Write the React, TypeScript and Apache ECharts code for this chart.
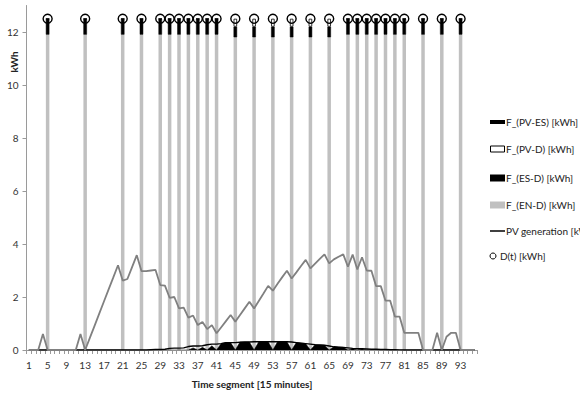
import React, { useEffect, useRef } from "react";
import * as echarts from "echarts";

// Time segments (15 minutes)
const categories = [
  "1","2","3","4","5","6","7","8","9","10","11","12","13","14","15","16",
  "17","18","19","20","21","22","23","24","25","26","27","28","29","30","31","32",
  "33","34","35","36","37","38","39","40","41","42","43","44","45","46","47","48",
  "49","50","51","52","53","54","55","56","57","58","59","60","61","62","63","64",
  "65","66","67","68","69","70","71","72","73","74","75","76","77","78","79","80",
  "81","82","83","84","85","86","87","88","89","90","91","92","93","94","95","96",
];

// PV generation [kWh] per segment
const pvGeneration = [
  0, 0, 0, 0.6, 0, 0, 0, 0, 0, 0, 0, 0.6, 0, 0.46, 0.91, 1.37,
  1.83, 2.29, 2.74, 3.2, 2.62, 2.68, 3.13, 3.58, 2.98, 2.98, 3.0, 3.02, 2.45, 2.43, 1.97, 2.0,
  1.57, 1.6, 1.22, 1.3, 0.94, 1.06, 0.79, 0.94, 0.63, 0.86, 1.09, 1.32, 1.07, 1.32, 1.57, 1.82,
  1.57, 1.85, 2.13, 2.42, 2.24, 2.5, 2.75, 2.99, 2.7, 2.93, 3.17, 3.4, 3.08, 3.26, 3.44, 3.61,
  3.27, 3.42, 3.52, 3.61, 3.14, 3.6, 3.04, 3.5, 3.0, 2.99, 2.41, 2.41, 1.86, 1.86, 1.26, 1.26,
  0.65, 0.65, 0.65, 0.65, 0, 0, 0, 0.65, 0, 0.5, 0.65, 0.65, 0, 0, 0, 0,
];

// Storage flow line near zero [kWh] per segment
const storageLine = [
  0, 0, 0, 0, 0, 0, 0, 0, 0, 0, 0, 0, 0, 0, 0, 0,
  0, 0, 0, 0, 0, 0, 0, 0, 0, 0, 0.01, 0.02, 0.02, 0.03, 0.06, 0.07,
  0.07, 0.08, 0.13, 0.15, 0.15, 0.16, 0.2, 0.22, 0.22, 0.24, 0.28, 0.28, 0.28, 0.29, 0.3, 0.3,
  0.31, 0.31, 0.31, 0.31, 0.31, 0.31, 0.31, 0.31, 0.3, 0.28, 0.26, 0.24, 0.22, 0.2, 0.19, 0.18,
  0.15, 0.12, 0.11, 0.1, 0.08, 0.06, 0.05, 0.05, 0.04, 0.03, 0.03, 0.02, 0.02, 0.01, 0.01, 0.005,
  0, 0, 0, 0, 0, 0, 0, 0, 0, 0, 0, 0, 0, 0, 0, 0,
];

// Segments with demand
const demandSegments = [5, 13, 21, 25, 29, 31, 33, 35, 37, 39, 41, 45, 49, 53, 57, 61, 65, 69, 71, 73, 75, 77, 79, 81, 85, 89, 93];
const demandValues = [12.5, 12.5, 12.5, 12.5, 12.5, 12.5, 12.5, 12.5, 12.5, 12.5, 12.5, 12.5, 12.5, 12.5, 12.5, 12.5, 12.5, 12.5, 12.5, 12.5, 12.5, 12.5, 12.5, 12.5, 12.5, 12.5, 12.5];
const enD = [11.9, 11.9, 11.9, 11.9, 11.9, 11.9, 11.9, 11.9, 11.9, 11.9, 11.9, 11.8, 11.8, 11.8, 11.8, 11.8, 11.8, 11.9, 11.9, 11.9, 11.9, 11.9, 11.9, 11.9, 11.9, 11.9, 11.9];
const esD = [0.6, 0.6, 0.6, 0.6, 0.6, 0.6, 0.6, 0.6, 0.6, 0.6, 0.6, 0.4, 0.4, 0.4, 0.4, 0.4, 0.4, 0.6, 0.6, 0.6, 0.6, 0.6, 0.6, 0.6, 0.6, 0.6, 0.6];
const pvD = [0, 0, 0, 0, 0, 0, 0, 0, 0, 0, 0, 0.3, 0.3, 0.3, 0.3, 0.3, 0.3, 0, 0, 0, 0, 0, 0, 0, 0, 0, 0];

// PV to storage (charging) between demand segments
const chargeSegments = [36, 38, 40, 42, 43, 44, 46, 47, 48, 50, 51, 52, 54, 55, 56, 58, 59, 60, 62, 63, 64, 66, 67, 68, 70, 72];
const chargeValues = [0.08, 0.1, 0.16, 0.25, 0.28, 0.28, 0.3, 0.3, 0.3, 0.31, 0.31, 0.31, 0.31, 0.31, 0.31, 0.28, 0.26, 0.24, 0.2, 0.19, 0.18, 0.12, 0.11, 0.1, 0.05, 0.04];

const yTicks = [0, 2, 4, 6, 8, 10, 12];

const legendNames = ["F_(PV-ES) [kWh]", "F_(PV-D) [kWh]", "F_(ES-D) [kWh]", "F_(EN-D) [kWh]", "PV generation [kWh]", "D(t) [kWh]"];

const FONT = "Lato, 'Open Sans', sans-serif";

function spread(segs: number[], vals: number[], fill: number | null) {
  const arr: (number | null)[] = categories.map(() => fill);
  segs.forEach((s, i) => {
    arr[s - 1] = vals[i];
  });
  return arr;
}

export default function App() {
  const ref = useRef<HTMLDivElement>(null);
  useEffect(() => {
    if (!ref.current) return;
    const chart = echarts.init(ref.current, null, { renderer: "svg" });
    const rows = [122, 149, 178, 205, 231, 256];
    const legendGraphics: any[] = [
      { type: "rect", shape: { x: 490, y: rows[0] - 2, width: 15, height: 4 }, style: { fill: "#000" } },
      { type: "rect", shape: { x: 490.5, y: rows[1] - 3, width: 14, height: 6 }, style: { fill: "#fff", stroke: "#000", lineWidth: 1 } },
      { type: "rect", shape: { x: 490, y: rows[2] - 3.5, width: 15, height: 7 }, style: { fill: "#000" } },
      { type: "rect", shape: { x: 490, y: rows[3] - 3.5, width: 15, height: 7 }, style: { fill: "#c0c0c0" } },
      { type: "line", shape: { x1: 490, y1: rows[4], x2: 505, y2: rows[4] }, style: { stroke: "#000", lineWidth: 1.5 } },
      { type: "circle", shape: { cx: 493, cy: rows[5], r: 3 }, style: { fill: "none", stroke: "#000", lineWidth: 1 } },
    ];
    legendNames.forEach((n, i) => {
      legendGraphics.push({
        type: "text",
        x: i === 5 ? 500 : 506,
        y: rows[i],
        style: { text: n, fontSize: 10, fontFamily: FONT, fill: "#222", textAlign: "left", textVerticalAlign: "middle" },
      });
    });

    const option: any = {
      animation: false,
      grid: { left: 26.5, top: 5.5, width: 450.5, height: 344.5, containLabel: false, outerBoundsMode: "none" },
      xAxis: {
        type: "category",
        data: categories,
        boundaryGap: true,
        axisLine: { show: true, lineStyle: { color: "#9a9a9a", width: 1 } },
        axisTick: { show: true, interval: 0, length: 4, lineStyle: { color: "#9a9a9a" } },
        axisLabel: { interval: 3, margin: 10, fontSize: 10, color: "#333", fontFamily: FONT, hideOverlap: false },
        splitLine: { show: false },
      },
      yAxis: {
        type: "value",
        min: 0,
        max: 13,
        interval: 2,
        axisLine: { show: true, lineStyle: { color: "#9a9a9a" } },
        axisTick: { show: true, length: 4, lineStyle: { color: "#9a9a9a" }, customValues: yTicks },
        axisLabel: { customValues: yTicks, margin: 8, fontSize: 10, color: "#333", fontFamily: FONT },
        splitLine: { show: false },
      },
      graphic: [
        {
          type: "text",
          x: 13.5,
          y: 62,
          rotation: Math.PI / 2,
          style: { text: "kWh", fontSize: 10, fontWeight: "bold", fontFamily: FONT, fill: "#222", textAlign: "center", textVerticalAlign: "middle" },
        },
        {
          type: "text",
          x: 252,
          y: 384,
          style: { text: "Time segment [15 minutes]", fontSize: 10, fontWeight: "bold", fontFamily: FONT, fill: "#222", textAlign: "center", textVerticalAlign: "middle" },
        },
        ...legendGraphics,
      ],
      series: [
        {
          name: "F_(EN-D) [kWh]",
          type: "bar",
          stack: "F",
          barWidth: 3.5,
          itemStyle: { color: "#c0c0c0" },
          data: spread(demandSegments, enD, null),
        },
        {
          name: "F_(ES-D) [kWh]",
          type: "bar",
          stack: "F",
          barWidth: 3.5,
          itemStyle: { color: "#000", borderColor: "#000", borderWidth: 0.5 },
          data: spread(demandSegments, esD, null),
        },
        {
          name: "F_(PV-D) [kWh]",
          type: "bar",
          stack: "F",
          barWidth: 3.5,
          itemStyle: { color: "#fff", borderColor: "#000", borderWidth: 0.8 },
          data: spread(demandSegments, pvD, null),
        },
        {
          name: "F_(PV-ES) [kWh]",
          type: "line",
          symbol: "none",
          lineStyle: { color: "#000", width: 0.5 },
          areaStyle: { color: "#000", opacity: 1 },
          data: spread(chargeSegments, chargeValues, 0),
          z: 3,
        },
        {
          name: "Storage flow",
          type: "line",
          symbol: "none",
          lineStyle: { color: "#000", width: 1.4 },
          data: storageLine,
          z: 4,
        },
        {
          name: "PV generation [kWh]",
          type: "line",
          symbol: "none",
          lineStyle: { color: "#808080", width: 1.8 },
          data: pvGeneration,
          z: 4,
        },
        {
          name: "D(t) [kWh]",
          type: "scatter",
          symbol: "circle",
          symbolSize: 9,
          itemStyle: { color: "rgba(255,255,255,0)", borderColor: "#000", borderWidth: 1.4, opacity: 1 },
          data: spread(demandSegments, demandValues, null),
          z: 5,
        },
      ],
    };
    chart.setOption(option);
    return () => chart.dispose();
  }, []);
  return <div ref={ref} style={{ position: "absolute", left: 0, top: 0, width: 580, height: 394 }} />;
}
